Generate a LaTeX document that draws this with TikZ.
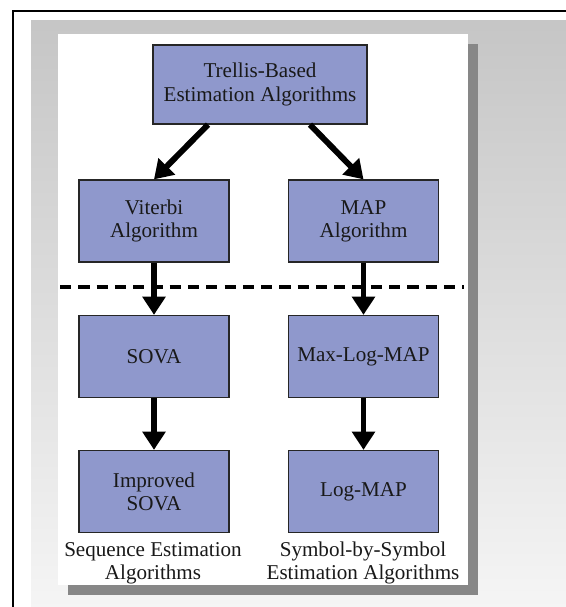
\documentclass[tikz,border=0pt]{standalone}
\usepackage{fontspec}
\setmainfont{Liberation Serif}
\usepackage{tikz}
\usetikzlibrary{arrows.meta, positioning, calc}

\definecolor{boxblue}{RGB}{143,152,204}
\definecolor{shadowgray}{RGB}{135,135,135}

\begin{document}
\begin{tikzpicture}[x=0.025cm, y=-0.025cm,
  algbox/.style={draw=black!85, line width=0.9pt, fill=boxblue, align=center,
    minimum width=3.75cm, minimum height=2.05cm, inner sep=2pt,
    font=\fontsize{15}{16.5}\selectfont, text=black!90},
  bigarrow/.style={line width=4.2pt, -{Triangle[width=16pt, length=13pt]}},
  caption/.style={align=center, font=\fontsize{15}{16.5}\selectfont, text=black!90}]
  \useasboundingbox (0,0) rectangle (566,607);

  % Hintergrund: Rahmen, grauer Verlauf, weisses Blatt mit Schatten
  \draw[line width=1.4pt] (13,607) -- (13,11) -- (566,11);
  \shade[top color=gray!45, bottom color=gray!8] (31,20) rectangle (566,607);
  \fill[shadowgray] (68,44) rectangle (478,595);
  \fill[white] (58,34) rectangle (468,585);

  % Knoten
  \node[algbox, minimum width=5.35cm, minimum height=1.975cm] (top) at (260,84.5)
    {Trellis-Based\\Estimation Algorithms};
  \node[algbox] (vit) at (154,221) {Viterbi\\Algorithm};
  \node[algbox] (map) at (363.5,221) {MAP\\Algorithm};
  \node[algbox] (sova) at (154,356.5) {SOVA};
  \node[algbox] (maxlog) at (363.5,356.5) {Max-Log-MAP};
  \node[algbox] (isova) at (154,491.5) {Improved\\SOVA};
  \node[algbox] (logmap) at (363.5,491.5) {Log-MAP};

  \node[caption] (seqcap) at (153,563) {Sequence Estimation\\Algorithms};
  \node[caption] (symcap) at (363,563) {Symbol-by-Symbol\\Estimation Algorithms};

  % Trennlinie
  \coordinate (dl) at (60,287);
  \coordinate (dr) at (464,287);
  \draw[line width=2.2pt, dash pattern=on 8pt off 5pt] (dl) -- (dr);

  % Pfeile
  \draw[bigarrow] ([xshift=-1.3cm]top.south) -- (vit.north);
  \draw[bigarrow] ([xshift=1.25cm]top.south) -- (map.north);
  \draw[bigarrow] (vit) -- (sova);
  \draw[bigarrow] (map) -- (maxlog);
  \draw[bigarrow] (sova) -- (isova);
  \draw[bigarrow] (maxlog) -- (logmap);
\end{tikzpicture}
\end{document}
